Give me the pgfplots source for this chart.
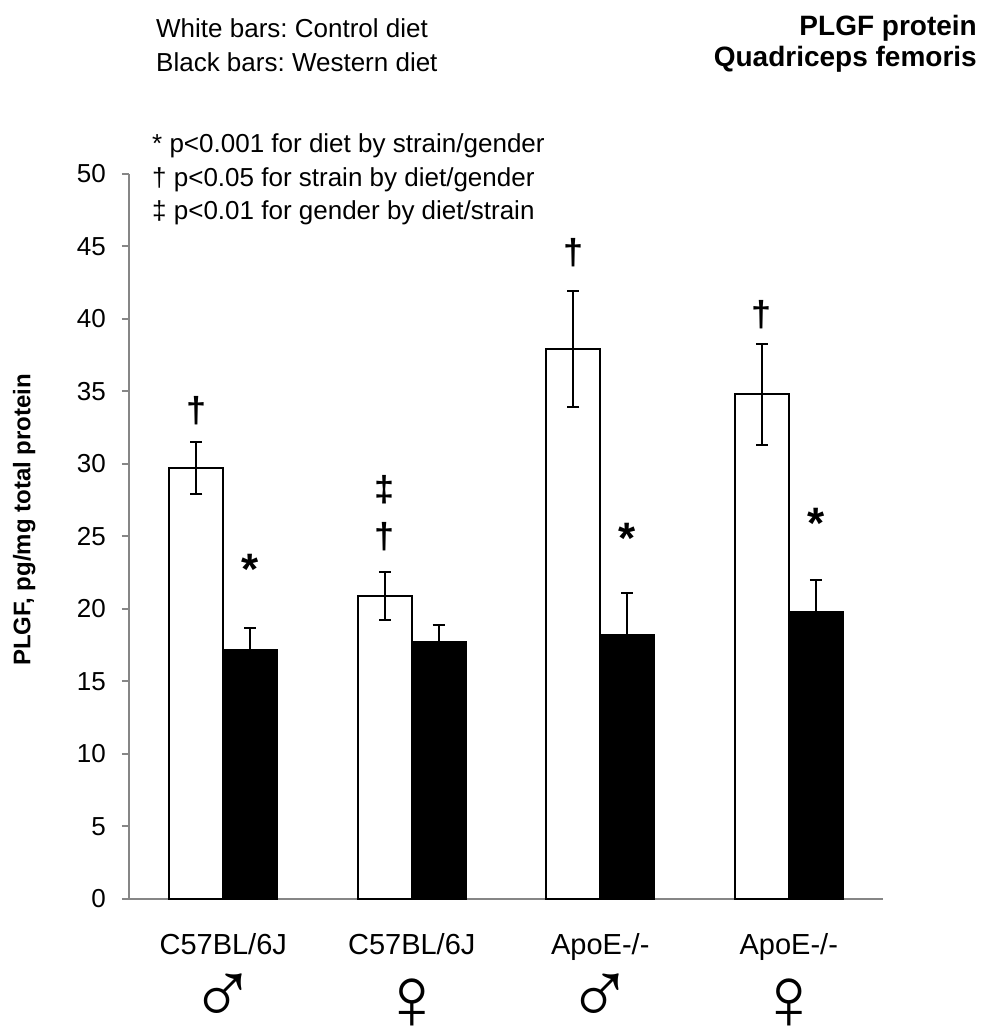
\documentclass[border=0pt]{standalone}
\usepackage{fontspec}
\setmainfont{Liberation Sans}
\usepackage{pgfplots}
\pgfplotsset{compat=1.18}
\definecolor{axgray}{RGB}{134,134,134}
\frenchspacing
\begin{document}
\begin{tikzpicture}[x=1pt,y=1pt]
\useasboundingbox (0,0) rectangle (984,1032);
\begin{axis}[
  at={(129pt,133pt)}, anchor=south west, scale only axis,
  width=754pt, height=725pt,
  xmin=0, xmax=4, ymin=0, ymax=50, clip=false,
  axis x line=bottom, axis y line=left,
  axis line style={-, draw=axgray, line width=2pt},
  ytick={0,5,...,50},
  xtick={0.5,1.5,2.5,3.5},
  xticklabels={C57BL/6J,C57BL/6J,ApoE-/-,ApoE-/-},
  x tick style={draw=none},
  y tick style={axgray, line width=2pt},
  tick align=outside, major tick length=7pt,
  /pgf/number format/assume math mode=true,
  yticklabel style={font=\fontsize{26}{30}\selectfont, anchor=east, inner sep=0pt, xshift=-16pt},
  xticklabel style={font=\fontsize{29}{34}\selectfont, anchor=base, inner sep=0pt, yshift=-48pt},
  ylabel={PLGF, pg/mg total protein},
  ylabel style={font=\bfseries\fontsize{24}{28}\selectfont, at={(axis description cs:-0.139,0.523)}, anchor=center},
  errstyle/.style={error bars/.cd, y dir=#1, y explicit,
    error bar style={line width=2pt, black},
    error mark=-, error mark options={rotate=90, mark size=6pt, line width=2pt, black}},
]
% Control diet (white bars)
\addplot[ybar, bar width=54pt, bar shift=0pt, fill=white, draw=black, line width=2pt,
  errstyle=both]
  coordinates {(0.3568,29.7) +- (0,1.8) (1.3568,20.9) +- (0,1.65) (2.3568,37.9) +- (0,4.0) (3.3568,34.8) +- (0,3.5)};
% Western diet (black bars)
\addplot[ybar, bar width=54pt, bar shift=0pt, fill=black, draw=black, line width=2pt,
  errstyle=plus]
  coordinates {(0.6432,17.2) +- (0,1.5) (1.6432,17.7) +- (0,1.2) (2.6432,18.2) +- (0,2.9) (3.6432,19.8) +- (0,2.2)};
% significance marks
\node[font=\bfseries\fontsize{36}{36}\selectfont] at (axis cs:0.357,33.7) {†};
\node[font=\bfseries\fontsize{36}{36}\selectfont] at (axis cs:1.357,28.2) {‡};
\node[font=\bfseries\fontsize{36}{36}\selectfont] at (axis cs:1.357,25.0) {†};
\node[font=\bfseries\fontsize{36}{36}\selectfont] at (axis cs:2.357,44.6) {†};
\node[font=\bfseries\fontsize{36}{36}\selectfont] at (axis cs:3.357,40.3) {†};
\node[font=\bfseries\fontsize{44}{44}\selectfont] at (axis cs:0.643,22.7) {*};
\node[font=\bfseries\fontsize{44}{44}\selectfont] at (axis cs:2.643,24.9) {*};
\node[font=\bfseries\fontsize{44}{44}\selectfont] at (axis cs:3.643,25.9) {*};
% gender symbols
\node[inner sep=0pt, font=\fontsize{90}{90}\selectfont, yshift=-100pt] at (axis cs:0.5,0) {♂};
\node[inner sep=0pt, font=\fontsize{90}{90}\selectfont, yshift=-105pt] at (axis cs:1.5,0) {♀};
\node[inner sep=0pt, font=\fontsize{90}{90}\selectfont, yshift=-100pt] at (axis cs:2.5,0) {♂};
\node[inner sep=0pt, font=\fontsize{90}{90}\selectfont, yshift=-105pt] at (axis cs:3.5,0) {♀};
\end{axis}
\node[anchor=base west, inner sep=0pt, font=\fontsize{26}{30}\selectfont] at (156,994) {White bars: Control diet};
\node[anchor=base west, inner sep=0pt, font=\fontsize{26}{30}\selectfont] at (156,960) {Black bars: Western diet};
\node[anchor=base east, inner sep=0pt, font=\bfseries\fontsize{28}{32}\selectfont] at (977,996) {PLGF protein};
\node[anchor=base east, inner sep=0pt, font=\bfseries\fontsize{28}{32}\selectfont] at (977,965) {Quadriceps femoris};
\node[anchor=base west, inner sep=0pt, font=\fontsize{26}{30}\selectfont] at (152,879) {* p<0.001 for diet by strain/gender};
\node[anchor=base west, inner sep=0pt, font=\fontsize{26}{30}\selectfont] at (152,845) {† p<0.05 for strain by diet/gender};
\node[anchor=base west, inner sep=0pt, font=\fontsize{26}{30}\selectfont] at (152,812) {‡ p<0.01 for gender by diet/strain};
\end{tikzpicture}
\end{document}
